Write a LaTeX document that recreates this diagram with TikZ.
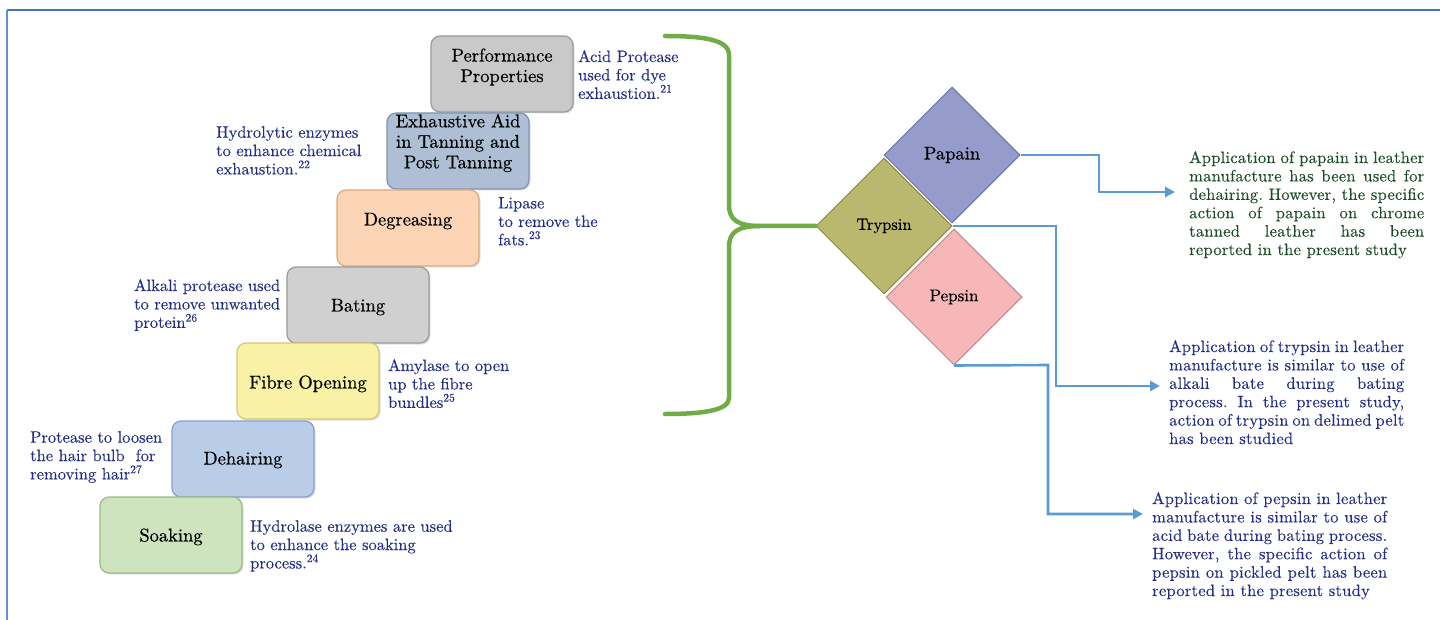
\documentclass[tikz,border=0pt]{standalone}
\usepackage{fontspec}
\newfontfamily\boxfnt{lmroman10-regular.otf}[FakeBold=0.5]
\newfontfamily\notefnt{lmroman10-regular.otf}[FakeBold=0.2]
\newfontfamily\rightfnt{lmroman10-regular.otf}[FakeBold=0.2,LetterSpace=1.5]
\newcommand\boxlift[2]{\raisebox{#1}[0pt][0pt]{#2}}
\usetikzlibrary{shapes.geometric,arrows.meta,shadows}
\definecolor{noteblue}{RGB}{36,46,135}
\definecolor{papgreen}{RGB}{28,75,42}
\definecolor{connblue}{RGB}{91,155,213}
\definecolor{framblue}{RGB}{68,114,196}
\definecolor{bracegreen}{RGB}{112,173,71}
\frenchspacing
\begin{document}
\begin{tikzpicture}[x=1pt,y=-1pt,
  stepbox/.style={draw, rounded corners=9pt, minimum width=142pt, minimum height=76pt,
    inner sep=0pt, line width=1.2pt, font=\boxfnt\fontsize{18.5}{20.5}\selectfont,
    drop shadow={shadow xshift=1.5pt, shadow yshift=-1.5pt, opacity=0.25}},
  note/.style={anchor=north west, inner sep=0pt, align=left, text=noteblue,
    font=\notefnt\fontsize{16.5}{18.4}\selectfont},
  rnote/.style={anchor=north west, inner sep=0pt, align=left, text=noteblue,
    font=\rightfnt\fontsize{16.5}{18.4}\selectfont},
  dia/.style={diamond, aspect=1, minimum width=136pt, minimum height=136pt,
    inner sep=0pt, draw, line width=1pt},
  conn/.style={draw=connblue, line width=2.6pt, -{Triangle[length=10pt,width=10pt]}},
  brace/.style={draw=bracegreen, line width=4.5pt, line cap=round}]
\useasboundingbox (0,0) rectangle (1440,620);
% frame
\draw[framblue, line width=2pt] (7,10) -- (1440,10);
\draw[framblue!80, line width=1.5pt] (7,10) -- (7,620);

% staircase
\node[stepbox, fill={rgb,255:red,201;green,201;blue,201}, draw={rgb,255:red,155;green,155;blue,155}] (pp) at (502,74)
  {\boxlift{2pt}{\begin{tabular}{@{}c@{}}Performance\\Properties\end{tabular}}};
\node[stepbox, fill={rgb,255:red,174;green,191;blue,213}, draw={rgb,255:red,128;green,146;blue,175}] (ea) at (458,151)
  {\boxlift{3pt}{\begin{tabular}{@{}c@{}}Exhaustive Aid\\in Tanning and\\Post Tanning\end{tabular}}};
\node[stepbox, fill={rgb,255:red,251;green,213;blue,181}, draw={rgb,255:red,220;green,170;blue,128}] (dg) at (408,228)
  {\boxlift{2.5pt}{Degreasing}};
\node[stepbox, fill={rgb,255:red,208;green,208;blue,208}, draw={rgb,255:red,155;green,155;blue,155}] (bt) at (358,305)
  {\boxlift{-6.5pt}{Bating}};
\node[stepbox, fill={rgb,255:red,249;green,241;blue,165}, draw={rgb,255:red,214;green,200;blue,112}] (fo) at (308,381)
  {\boxlift{-7.5pt}{Fibre Opening}};
\node[stepbox, fill={rgb,255:red,185;green,205;blue,233}, draw={rgb,255:red,135;green,160;blue,205}] (dh) at (243,459)
  {\boxlift{-5.5pt}{Dehairing}};
\node[stepbox, fill={rgb,255:red,205;green,228;blue,190}, draw={rgb,255:red,152;green,188;blue,130}] (sk) at (171,535)
  {\boxlift{-6.5pt}{Soaking}};

% annotations
\node[note] (n1) at (578,50) {Acid Protease\\used for dye\\exhaustion.\textsuperscript{21}};
\node[note] (n2) at (216,126) {Hydrolytic enzymes\\to enhance chemical\\exhaustion.\textsuperscript{22}};
\node[note] (n3) at (498,197) {Lipase\\to remove the\\fats.\textsuperscript{23}};
\node[note] (n4) at (134,279) {Alkali protease used\\to remove unwanted\\protein\textsuperscript{26}};
\node[note] (n5) at (388,359) {Amylase to open\\up the fibre\\bundles\textsuperscript{25}};
\node[note] (n6) at (30,431) {Protease to loosen\\the hair bulb \ for\\removing hair\textsuperscript{27}};
\node[note] (n7) at (250,520) {Hydrolase enzymes are used\\to enhance the soaking\\process.\textsuperscript{24}};

% diamonds
\node[dia, fill={rgb,255:red,185;green,184;blue,110}, draw={rgb,255:red,140;green,138;blue,70},
  font=\boxfnt\fontsize{16.5}{18}\selectfont] (trypsin) at (884,226) {Trypsin};
\node[dia, fill={rgb,255:red,149;green,156;blue,203}, draw={rgb,255:red,107;green,115;blue,176},
  font=\boxfnt\fontsize{18.5}{20}\selectfont] (papain) at (952,155) {Papain};
\node[dia, fill={rgb,255:red,247;green,183;blue,184}, draw={rgb,255:red,181;green,138;blue,138},
  font=\boxfnt\fontsize{17}{19}\selectfont] (pepsin) at (954,297) {Pepsin};

% brace
\coordinate (cusp) at (760,226);
\draw[brace] (665,36) .. controls (705,36) and (729,40) .. (729,55) -- (729,205)
  .. controls (729,220) and (738,226) .. (cusp) -- (trypsin.west);
\draw[brace] (cusp) .. controls (738,226) and (729,232) .. (729,247) -- (729,398)
  .. controls (729,410) and (705,414) .. (665,414);

% right texts
\node[rnote, text=papgreen] (t1) at (1189,151)
  {\makebox[235pt][s]{Application of papain in leather}\\
   \makebox[235pt][s]{manufacture has been used for}\\
   \makebox[235pt][s]{dehairing. However, the specific}\\
   \makebox[235pt][s]{action of papain on chrome}\\
   \makebox[235pt][s]{tanned leather has been}\\
   reported in the present study};
\node[rnote] (t2) at (1169,340)
  {\makebox[235pt][s]{Application of trypsin in leather}\\
   \makebox[235pt][s]{manufacture is similar to use of}\\
   \makebox[235pt][s]{alkali bate during bating}\\
   \makebox[235pt][s]{process. In the present study,}\\
   \makebox[235pt][s]{action of trypsin on delimed pelt}\\
   has been studied};
\node[rnote] (t3) at (1152,492)
  {\makebox[235pt][s]{Application of pepsin in leather}\\
   \makebox[235pt][s]{manufacture is similar to use of}\\
   \makebox[235pt][s]{acid bate during bating process.}\\
   \makebox[235pt][s]{However, the specific action of}\\
   \makebox[235pt][s]{pepsin on pickled pelt has been}\\
   reported in the present study};

% connectors
\coordinate (a1) at (1175,192);
\coordinate (a2) at (1160,386);
\coordinate (a3) at (1143,514);
\draw[conn] (papain.east) -- (1099,155) |- (a1);
\draw[conn] (trypsin.east) -- (1056,226) |- (a2);
\draw[conn] (pepsin.south) -- (1048,365) |- (a3);
\end{tikzpicture}
\end{document}
